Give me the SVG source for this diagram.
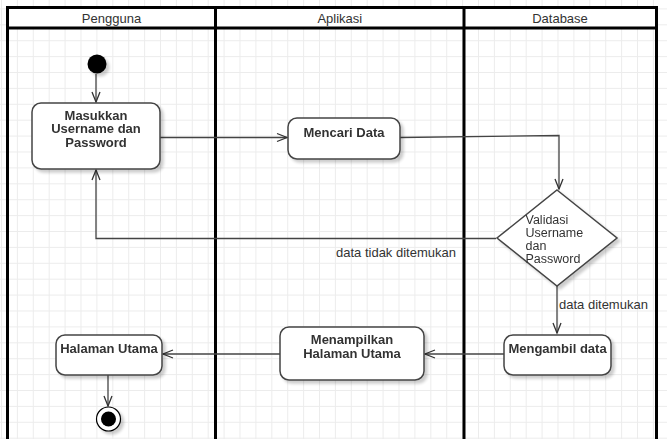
<svg xmlns="http://www.w3.org/2000/svg" width="667" height="439" viewBox="0 0 667 439">
<style>
.hdr{font-family:"Liberation Sans",Arial,sans-serif;font-size:13px;fill:#333;text-anchor:middle;}
.lane{fill:none;stroke:#000;stroke-width:3;}
.box{fill:#fff;stroke:#444;stroke-width:1.5;}
.lbl{font-family:"Liberation Sans",Arial,sans-serif;font-size:13px;font-weight:bold;fill:#333;text-anchor:middle;}
.txt{font-family:"Liberation Sans",Arial,sans-serif;font-size:12.5px;fill:#333;}
.elbl{font-family:"Liberation Sans",Arial,sans-serif;font-size:13px;fill:#333;}
.edge{fill:none;stroke:#444;stroke-width:1.3;}
</style>
<defs>
<pattern id="grid" patternUnits="userSpaceOnUse" x="1" y="8.4" width="15.9" height="15.9">
<path d="M0 0.5H15.9M0.5 0V15.9" fill="none" stroke="#ececec" stroke-width="1"/>
</pattern>
<filter id="sh" x="-20%" y="-20%" width="150%" height="150%">
<feGaussianBlur in="SourceAlpha" stdDeviation="1.5"/>
<feOffset dx="3" dy="3" result="b"/>
<feComponentTransfer><feFuncA type="linear" slope="0.2"/></feComponentTransfer>
<feMerge><feMergeNode/><feMergeNode in="SourceGraphic"/></feMerge>
</filter>
<marker id="open" viewBox="-11 -6 13 12" refX="0" refY="0" markerWidth="13" markerHeight="12" markerUnits="userSpaceOnUse" orient="auto">
<path d="M-10,-4 L0,0 L-10,4" fill="none" stroke="#333" stroke-width="1.3"/>
</marker>
</defs>
<rect width="667" height="439" fill="#fff"/>
<rect width="667" height="439" fill="url(#grid)"/>
<g id="lanes">
<rect x="7.5" y="7.5" width="649" height="20.5" fill="#fff"/>
<path class="lane" d="M7.5,445 V7.5 H656.5 V445 M7.5,28 H656.5 M215.5,7.5 V445 M464,7.5 V445"/>
<text class="hdr" x="111.5" y="22.5">Pengguna</text>
<text class="hdr" x="339.8" y="22.5">Aplikasi</text>
<text class="hdr" x="560" y="22.5">Database</text>
</g>
<g id="connectors">
<path class="edge" d="M96,74 V102" marker-end="url(#open)"/>
<path class="edge" d="M160,137.5 H287" marker-end="url(#open)"/>
<path class="edge" d="M400,137.5 L559,135.5 V189" marker-end="url(#open)"/>
<path class="edge" d="M496,238.5 H96 V170" marker-end="url(#open)"/>
<text class="elbl" x="336" y="256.5">data tidak ditemukan</text>
<path class="edge" d="M557,286 V333" marker-end="url(#open)"/>
<text class="elbl" x="559" y="308.5">data ditemukan</text>
<path class="edge" d="M504,354 H425" marker-end="url(#open)"/>
<path class="edge" d="M280,354 H163" marker-end="url(#open)"/>
<path class="edge" d="M108,375 V406" marker-end="url(#open)"/>
</g>
<g id="start" filter="url(#sh)">
<circle cx="97" cy="64" r="9.5" fill="#000"/>
</g>
<g id="masukkan" filter="url(#sh)">
<rect class="box" x="32" y="103" width="128" height="66" rx="9"/>
<text class="lbl" x="96" y="119.5">Masukkan</text>
<text class="lbl" x="96" y="133">Username dan</text>
<text class="lbl" x="96" y="146.5">Password</text>
</g>
<g id="mencari" filter="url(#sh)">
<rect class="box" x="288" y="118" width="112" height="41" rx="9"/>
<text class="lbl" x="344" y="136.5">Mencari Data</text>
</g>
<g id="validasi" filter="url(#sh)">
<path class="box" d="M557,190 L617,238 L557,286 L497,238 Z"/>
<text class="txt" x="525.5" y="223.5">Validasi</text>
<text class="txt" x="525.5" y="237">Username</text>
<text class="txt" x="525.5" y="250">dan</text>
<text class="txt" x="525.5" y="262.5">Password</text>
</g>
<g id="mengambil" filter="url(#sh)">
<rect class="box" x="504" y="335" width="107" height="40" rx="9"/>
<text class="lbl" x="557.5" y="352.5">Mengambil data</text>
</g>
<g id="menampilkan" filter="url(#sh)">
<rect class="box" x="280" y="327" width="144" height="53" rx="9"/>
<text class="lbl" x="352" y="344">Menampilkan</text>
<text class="lbl" x="352" y="357.5">Halaman Utama</text>
</g>
<g id="halaman" filter="url(#sh)">
<rect class="box" x="56" y="335" width="106" height="40" rx="9"/>
<text class="lbl" x="109" y="352.5">Halaman Utama</text>
</g>
<g id="end" filter="url(#sh)">
<circle cx="108.5" cy="419" r="12" fill="#fff" stroke="#000" stroke-width="1.2"/>
<circle cx="108.5" cy="419" r="7.5" fill="#000"/>
</g>
</svg>
